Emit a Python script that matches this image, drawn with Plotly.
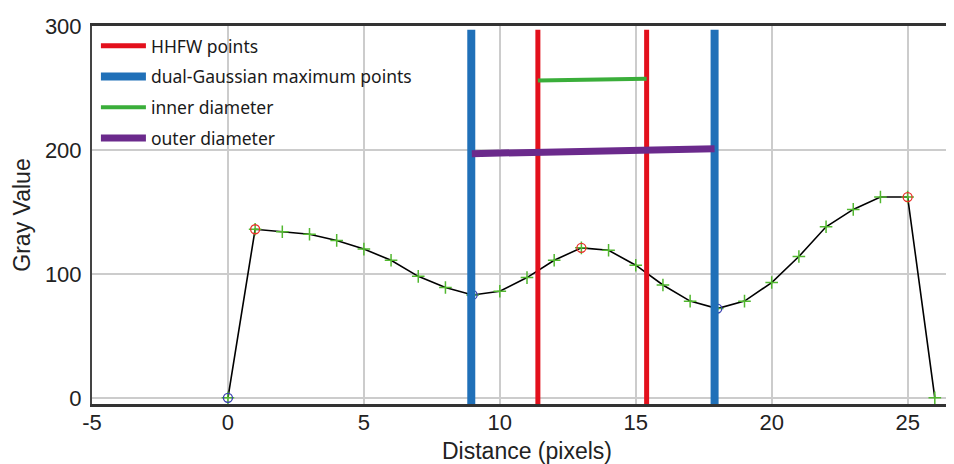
import plotly.graph_objects as go

# Profile data
distance = list(range(0, 27))
gray = [0, 136, 134, 132, 127, 120, 111, 98, 89, 83, 86, 97, 111, 121, 119, 107,
        91, 78, 72, 78, 93, 114, 138, 152, 162, 162, 0]

max_x = [1, 13, 25]
max_y = [136, 121, 162]
min_x = [0, 9, 18]
min_y = [0, 83, 72]

# Vertical marker lines
hhfw_x = [11.4, 15.4]
dg_x = [8.95, 17.9]
line_bottom = -5
line_top = 297

# Diameter segments
inner_x = [11.4, 15.4]
inner_y = [256, 257.5]
outer_x = [8.97, 17.9]
outer_y = [197, 201]

fig = go.Figure()

def vlines(xs):
    X, Y = [], []
    for x in xs:
        X += [x, x, None]
        Y += [line_bottom, line_top, None]
    return X, Y

# data curve
fig.add_trace(go.Scatter(x=distance, y=gray, mode="lines", line=dict(color="black", width=1.6),
                         showlegend=False, hoverinfo="skip"))
fig.add_trace(go.Scatter(x=distance, y=gray, mode="markers",
                         marker=dict(symbol="cross-thin-open", size=9, color="#52b830",
                                     line=dict(width=1.5, color="#52b830")),
                         showlegend=False))
fig.add_trace(go.Scatter(x=max_x, y=max_y, mode="markers",
                         marker=dict(symbol="circle-open", size=9, color="#e8322a",
                                     line=dict(width=1.3)), showlegend=False))
fig.add_trace(go.Scatter(x=min_x, y=min_y, mode="markers",
                         marker=dict(symbol="circle-open", size=9, color="#3a3fb0",
                                     line=dict(width=1.3)), showlegend=False))

hx, hy = vlines(hhfw_x)
fig.add_trace(go.Scatter(x=hx, y=hy, mode="lines", name="HHFW points",
                         line=dict(color="#e3101c", width=5), legendgroup="a"))
dx, dy = vlines(dg_x)
fig.add_trace(go.Scatter(x=dx, y=dy, mode="lines", name="dual-Gaussian maximum points",
                         line=dict(color="#2070b8", width=8), legendgroup="b"))
fig.add_trace(go.Scatter(x=inner_x, y=inner_y, mode="lines", name="inner diameter",
                         line=dict(color="#3aae3a", width=4), legendgroup="c"))
fig.add_trace(go.Scatter(x=outer_x, y=outer_y, mode="lines", name="outer diameter",
                         line=dict(color="#6b2a8c", width=7), legendgroup="d"))

fig.update_layout(
    width=954, height=464,
    margin=dict(l=84, r=0, t=18, b=68),
    paper_bgcolor="white", plot_bgcolor="white",
    font=dict(family="Liberation Sans, Arial, sans-serif", size=22, color="#222"),
    legend=dict(x=0.0045, y=0.995, xanchor="left", yanchor="top", bgcolor="rgba(0,0,0,0)",
                font=dict(family="Noto Sans, sans-serif", size=17.5, color="#1a1a1a"),
                traceorder="grouped", tracegroupgap=5, itemwidth=45),
    xaxis=dict(range=[-5, 27.0], tickvals=[-5, 0, 5, 10, 15, 20, 25],
               ticktext=["-5", "0", "5", "10", "15", "20", "25"],
               showgrid=True, gridcolor="#cccccc", gridwidth=1.5, zeroline=False,
               showline=True, linecolor="#333", linewidth=2.5, mirror=True,
               ticks="", ticklabelstandoff=-3, automargin=False,
               title=dict(text="Distance (pixels)", standoff=9, font=dict(size=23))),
    yaxis=dict(range=[-5, 300], tickvals=[0, 100, 200, 300],
               showgrid=True, gridcolor="#cccccc", gridwidth=1.5, zeroline=False,
               showline=True, linecolor="#444", linewidth=2, mirror=True,
               ticks="", ticklabelstandoff=4, automargin=False,
               title=dict(text="Gray Value", standoff=8, font=dict(size=23))),
)

fig.write_html("out.html")
